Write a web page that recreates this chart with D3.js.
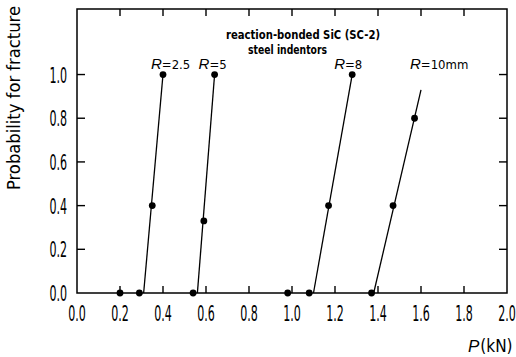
<!DOCTYPE html>
<html><head><meta charset="utf-8">
<script src="https://cdn.jsdelivr.net/npm/d3@7"></script>
<style>body{margin:0;background:#fff}svg{display:block}text{font-family:"DejaVu Sans Condensed","Liberation Sans Narrow",sans-serif;fill:#000}</style>
</head><body><svg id="c" width="516" height="357"></svg>
<script>
// data
const xTicks = [0.0,0.2,0.4,0.6,0.8,1.0,1.2,1.4,1.6,1.8,2.0];
const yTicks = [0.0,0.2,0.4,0.6,0.8,1.0];
const seriesNames = ["R=2.5","R=5","R=8","R=10mm"];
const ptsR25 = [[0.20,0],[0.29,0],[0.35,0.40],[0.40,1.0]];
const ptsR5  = [[0.54,0],[0.59,0.33],[0.64,1.0]];
const ptsR8  = [[0.98,0],[1.08,0],[1.17,0.40],[1.28,1.0]];
const ptsR10 = [[1.37,0],[1.47,0.40],[1.57,0.80]];
const lineR25 = [[0.31,0],[0.40,1.0]];
const lineR5  = [[0.56,0],[0.64,1.0]];
const lineR8  = [[1.10,0],[1.28,1.0]];
const lineR10 = [[1.38,0],[1.60,0.93]];
const titleLines = ["reaction-bonded SiC (SC-2)","steel indentors"];

const svg = d3.select("#c");
const x = d3.scaleLinear().domain([0,2]).range([77,507]);
const y = d3.scaleLinear().domain([0,1.3]).range([293,9]);
const L = 77, R = 507, T = 9, B = 293;

// frame
svg.append("rect").attr("x",L).attr("y",T).attr("width",R-L).attr("height",B-T)
  .attr("fill","none").attr("stroke","#000").attr("stroke-width",1.5);

// ticks (inward)
const g = svg.append("g").attr("stroke","#000").attr("stroke-width",1.4);
xTicks.slice(1,-1).forEach(v=>{
  g.append("line").attr("x1",x(v)).attr("x2",x(v)).attr("y1",B).attr("y2",B-7);
  g.append("line").attr("x1",x(v)).attr("x2",x(v)).attr("y1",T).attr("y2",T+7);
});
yTicks.slice(1).forEach(v=>{
  g.append("line").attr("x1",L).attr("x2",L+8).attr("y1",y(v)).attr("y2",y(v));
  g.append("line").attr("x1",R).attr("x2",R-8).attr("y1",y(v)).attr("y2",y(v));
});

// tick labels (tall, condensed glyphs)
xTicks.forEach(v=>{
  svg.append("text").attr("transform",`translate(${x(v)},321) scale(0.56,1)`).attr("text-anchor","middle")
    .attr("font-size",22).text(v.toFixed(1));
});
yTicks.forEach(v=>{
  svg.append("text").attr("transform",`translate(67,${y(v)+8}) scale(0.56,1)`).attr("text-anchor","end")
    .attr("font-size",22).text(v.toFixed(1));
});

// axis titles
svg.append("text").attr("transform","translate(20,190) rotate(-90)")
  .attr("font-size",17).attr("textLength",184).attr("lengthAdjust","spacingAndGlyphs")
  .text("Probability for fracture");
const pt = svg.append("text").attr("x",468).attr("y",352).attr("font-size",17);
pt.append("tspan").attr("font-style","italic").attr("font-family","Liberation Sans, sans-serif").attr("font-size",17).text("P");
pt.append("tspan").attr("dx",1).text("(kN)");

// annotation
svg.append("text").attr("x",226).attr("y",39).attr("font-size",12).attr("font-weight","bold")
  .attr("textLength",154).attr("lengthAdjust","spacingAndGlyphs").text(titleLines[0]);
svg.append("text").attr("x",248).attr("y",54).attr("font-size",12).attr("font-weight","bold")
  .attr("textLength",79).attr("lengthAdjust","spacingAndGlyphs").text(titleLines[1]);

// series
const lines = [lineR25,lineR5,lineR8,lineR10];
const pts = [ptsR25,ptsR5,ptsR8,ptsR10];
const lblDx = [-12,-16,-18,-11];
const line = d3.line().x(d=>x(d[0])).y(d=>y(d[1]));
lines.forEach((ln,i)=>{
  svg.append("path").attr("d",line(ln)).attr("fill","none").attr("stroke","#000").attr("stroke-width",1.3);
  svg.selectAll(null).data(pts[i]).enter().append("circle")
    .attr("cx",d=>x(d[0])).attr("cy",d=>y(d[1])).attr("r",3.4).attr("fill","#000");
  const top = ln[ln.length-1];
  const name = seriesNames[i];
  const t = svg.append("text").attr("x",x(top[0])+lblDx[i]).attr("y",y(1.0)-6).attr("font-size",13);
  t.append("tspan").attr("font-style","italic").attr("font-family","Liberation Sans, sans-serif").attr("font-size",15).text(name[0]);
  t.append("tspan").text(name.slice(1));
});
</script></body></html>
